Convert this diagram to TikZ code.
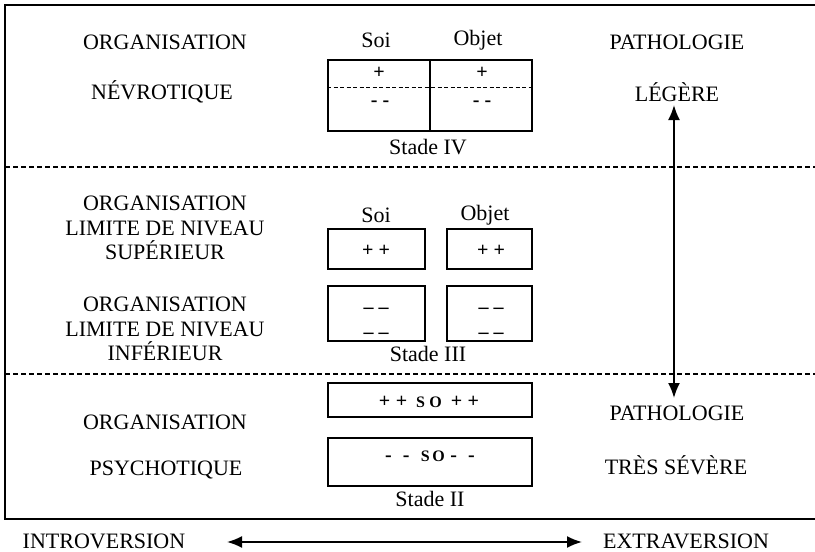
\documentclass[tikz,border=0pt]{standalone}
\usepackage{fontspec}
\setmainfont{Liberation Serif}
\usetikzlibrary{arrows.meta}
\begin{document}
\begin{tikzpicture}[x=1pt,y=-1pt,
  txt/.style={font=\fontsize{22}{24.5}\selectfont, inner sep=0pt, align=center},
  sign/.style={font=\fontsize{20}{20}\selectfont\bfseries, inner sep=0pt},
  cell/.style={draw, line width=1.6pt, inner sep=0pt},
  frame/.style={line width=1.8pt},
  sepline/.style={line width=1.2pt, dash pattern=on 5pt off 3pt},
  inline/.style={line width=0.9pt, dash pattern=on 4pt off 2.5pt},
  dblarrow/.style={line width=1.8pt, {Latex[length=15pt,width=12pt]}-{Latex[length=15pt,width=12pt]}}
]
\useasboundingbox (0,0) rectangle (815,552);

% outer frame (open to the right) and level separators
\draw[frame] (815,5) -- (5,5) -- (5,519) -- (815,519);
\draw[sepline] (5,167) -- (815,167);
\draw[sepline] (5,374) -- (815,374);

% ---------- neurotic level ----------
\node[txt] (org1) at (165,42) {ORGANISATION};
\node[txt] (nevro) at (162,92) {NÉVROTIQUE};
\node[txt] (path1) at (677,42) {PATHOLOGIE};
\node[txt] (leg) at (677,92) {LÉGÈRE};

\node[txt] (soi4l) at (376,40) {Soi};
\node[txt] (obj4l) at (478,40) {Objet};
\node[cell, minimum width=102pt, minimum height=71pt] (soi4) at (379,95.5) {};
\node[cell, minimum width=102pt, minimum height=71pt] (obj4) at (481,95.5) {};
\draw[inline] (soi4.west |- 0,87) -- (obj4.east |- 0,87);
\node[sign] (sp4) at (379,73) {+};
\node[sign] (op4) at (482,73) {+};
\node[sign] (sm4) at (380,104) {- -};
\node[sign] (om4) at (482,104) {- -};
\node[txt] (st4) at (428,147) {Stade IV};

% ---------- borderline level ----------
\node[txt] (lim1) at (165,228) {ORGANISATION\\LIMITE DE NIVEAU\\SUPÉRIEUR};
\node[txt] (lim2) at (165,329) {ORGANISATION\\LIMITE DE NIVEAU\\INFÉRIEUR};

\node[txt] (soi3l) at (376,215) {Soi};
\node[txt] (obj3l) at (485,215) {Objet};
\node[cell, minimum width=97pt, minimum height=40pt] (soi3a) at (376.5,249) {};
\node[cell, minimum width=85pt, minimum height=40pt] (obj3a) at (489.5,249) {};
\node[cell, minimum width=97pt, minimum height=55pt] (soi3b) at (376.5,313.5) {};
\node[cell, minimum width=85pt, minimum height=55pt] (obj3b) at (489.5,313.5) {};
\node[sign] (sp3) at (376,251) {+ +};
\node[sign] (op3) at (491,251) {+ +};
\node[sign] (sm3a) at (376,311) {– –};
\node[sign] (sm3b) at (376,336) {– –};
\node[sign] (om3a) at (491,311) {– –};
\node[sign] (om3b) at (491,336) {– –};
\node[txt] (st3) at (428,354) {Stade III};

% ---------- psychotic level ----------
\node[txt] (org2) at (165,422) {ORGANISATION};
\node[txt] (psycho) at (166,470) {PSYCHOTIQUE};
\node[txt] (path2) at (677,413) {PATHOLOGIE};
\node[txt] (sev) at (676,465) {TRÈS SÉVÈRE};

\node[cell, minimum width=204pt, minimum height=34pt] (b2a) at (430,400) {};
\node[cell, minimum width=204pt, minimum height=48pt] (b2b) at (430,462) {};
\node[sign] (so1) at (429,402) {+\;+\;\,{\fontsize{16}{16}\selectfont S\;O}\;\,+\;+};
\node[sign] (so2) at (430,456) {-\;\;-\;\;{\fontsize{16}{16}\selectfont S\,O}\;-\;\;-};
\node[txt] (st2) at (430,499) {Stade II};

% ---------- axes ----------
\coordinate (vtop) at (674,105);
\coordinate (vbot) at (674,398);
\draw[dblarrow] (vtop) -- (vbot);

\node[txt] (intro) at (104,541) {INTROVERSION};
\node[txt] (extra) at (686,541) {EXTRAVERSION};
\coordinate (hl) at (227,542);
\coordinate (hr) at (582,542);
\draw[dblarrow] (hl) -- (hr);
\end{tikzpicture}
\end{document}
